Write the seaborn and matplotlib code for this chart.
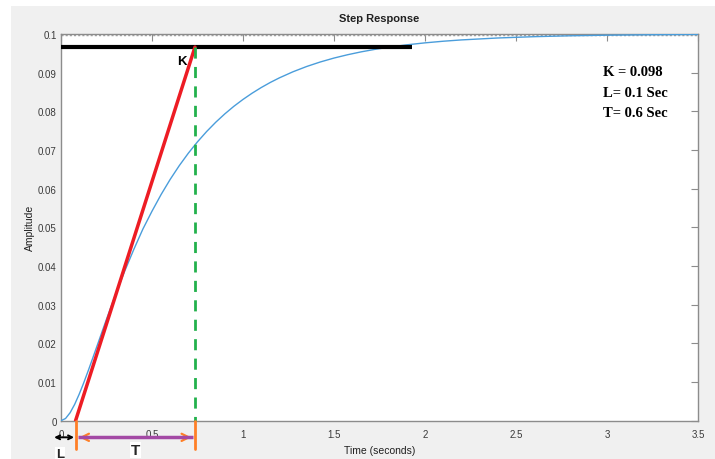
import matplotlib
matplotlib.use('Agg')
import matplotlib.pyplot as plt
from matplotlib.patches import Rectangle
import seaborn as sns
import pandas as pd

# step response
time_s = [0, 0.025, 0.05, 0.075, 0.1, 0.125, 0.15, 0.175, 0.2, 0.225, 0.25,
          0.275, 0.3, 0.35, 0.4, 0.45, 0.5, 0.55, 0.6, 0.65, 0.7, 0.75, 0.8,
          0.85, 0.9, 0.95, 1.0, 1.05, 1.1, 1.15, 1.2, 1.275, 1.35, 1.425, 1.5,
          1.575, 1.65, 1.725, 1.8, 1.9, 2.0, 2.1, 2.2, 2.4, 2.6, 2.8, 3.0,
          3.25, 3.5]
amplitude = [0, 0.00057, 0.00206, 0.00422, 0.00686, 0.00981, 0.01298, 0.01626,
             0.01959, 0.02293, 0.02624, 0.02948, 0.03264, 0.03868, 0.04429,
             0.04957, 0.05418, 0.05849, 0.06241, 0.06597, 0.06920, 0.07212,
             0.07477, 0.07717, 0.07934, 0.08131, 0.08308, 0.08469, 0.08615,
             0.08747, 0.08866, 0.09024, 0.09160, 0.09277, 0.09378, 0.09464,
             0.09539, 0.09603, 0.09658, 0.09720, 0.09771, 0.09813, 0.09847,
             0.09897, 0.09931, 0.09954, 0.09969, 0.09981, 0.09989]

# tangent / construction lines
tangent_t = [0.08, 0.736]
tangent_y = [0, 0.0966]
k_level = 0.0966
k_line_end = 1.927
L_val = 0.08
T_end = 0.736
info_lines = ['K = 0.098', 'L= 0.1 Sec', 'T= 0.6 Sec']

xticks = [0, 0.5, 1, 1.5, 2, 2.5, 3, 3.5]
xticklabels = ['0', '0.5', '1', '1.5', '2', '2.5', '3', '3.5']
yticks = [0, 0.01, 0.02, 0.03, 0.04, 0.05, 0.06, 0.07, 0.08, 0.09, 0.1]
yticklabels = ['0', '0.01', '0.02', '0.03', '0.04', '0.05', '0.06', '0.07',
               '0.08', '0.09', '0.1']

sns.set_theme(style='white')
plt.rcParams['font.family'] = ['Liberation Sans', 'DejaVu Sans']

fig = plt.figure(figsize=(7.15, 4.6), dpi=100, facecolor='white')
fig.patches.append(Rectangle((11 / 715, 0), 1, 1 - 7 / 460, transform=fig.transFigure,
                             facecolor='#f0f0f0', edgecolor='none', zorder=-10))
ax = fig.add_axes([61 / 715, 1 - 421.7 / 460, 637 / 715, 386.7 / 460])
ax.set_facecolor('white')

df = pd.DataFrame({'Time': time_s, 'Amplitude': amplitude})
sns.lineplot(data=df, x='Time', y='Amplitude', ax=ax, color='#4a9ddb', lw=1.0, zorder=3)

# dotted band along the top edge
ax.axhline(0.1, color='#a0a0a0', lw=2.5, linestyle=(0, (0.6, 0.6)), zorder=2)

# K level line
ax.plot([0, k_line_end], [k_level, k_level], color='black', lw=3, zorder=4,
        solid_capstyle='butt')
# tangent
ax.plot(tangent_t, tangent_y, color='#ed1c24', lw=2.5, zorder=5)
# dashed vertical at L+T
ax.plot([T_end, T_end], [k_level, 0], color='#22b14c', lw=2, ls=(0, (4, 3)),
        zorder=5, clip_on=False)

# below-axis markers
yb = -0.0074
ya = -0.0043
for xv in [L_val, T_end]:
    ax.plot([xv, xv], [0, yb], color='#ff7f27', lw=2, clip_on=False, zorder=6)
ax.annotate('', xy=(L_val + 0.005, ya), xytext=(L_val + 0.07, ya),
            arrowprops=dict(arrowstyle='->', color='#ff7f27', lw=1.6, mutation_scale=13),
            annotation_clip=False, zorder=6)
ax.annotate('', xy=(T_end - 0.005, ya), xytext=(T_end - 0.07, ya),
            arrowprops=dict(arrowstyle='->', color='#ff7f27', lw=1.6, mutation_scale=13),
            annotation_clip=False, zorder=6)
ax.plot([L_val + 0.015, T_end - 0.012], [ya, ya], color='#a349a4', lw=2.5,
        clip_on=False, zorder=7, solid_capstyle='butt')
ax.annotate('', xy=(-0.038, ya), xytext=(0.072, ya),
            arrowprops=dict(arrowstyle='<->', color='black', lw=1.4, mutation_scale=7,
                            shrinkA=0, shrinkB=0),
            annotation_clip=False, zorder=7)

ax.text(-0.005, -0.0071, 'L', fontsize=9.5, fontweight='bold', ha='center', va='top',
        bbox=dict(facecolor='white', edgecolor='none', pad=0.5), clip_on=False, zorder=8)
ax.text(0.41, -0.0058, 'T', fontsize=11, fontweight='bold', ha='center', va='top',
        bbox=dict(facecolor='white', edgecolor='none', pad=0.5), clip_on=False, zorder=8)
ax.text(0.665, 0.0930, 'K', fontsize=9.5, fontweight='bold', ha='center', va='center',
        color='black', zorder=8)

for i, line in enumerate(info_lines):
    ax.text(2.978, 0.0902 - i * 0.0052, line, fontsize=10.5, fontweight='bold',
            family='Liberation Serif', ha='left', va='center', color='black')

ax.set_xlim(0, 3.5)
ax.set_ylim(0, 0.1)
ax.set_xticks(xticks)
ax.set_xticklabels(xticklabels)
ax.set_yticks(yticks)
ax.set_yticklabels(yticklabels)
ax.tick_params(axis='both', direction='in', length=5, width=0.8, color='#8c8c8c',
               labelsize=7, labelcolor='#3a3a3a', top=True, right=True)
ax.tick_params(axis='x', pad=6)
ax.tick_params(axis='y', pad=3)
for sp in ax.spines.values():
    sp.set_color('#8c8c8c')
    sp.set_linewidth(1.0)

ax.set_title('Step Response', fontsize=8, fontweight='bold', color='#202020', pad=9)
ax.set_xlabel('Time (seconds)', fontsize=7.5, color='#202020')
ax.set_ylabel('Amplitude', fontsize=7.5, color='#202020')
ax.xaxis.set_label_coords(0.5, -0.063)
ax.yaxis.set_label_coords(-0.041, 0.5)

fig.savefig('out.png', dpi=100, facecolor=fig.get_facecolor())
